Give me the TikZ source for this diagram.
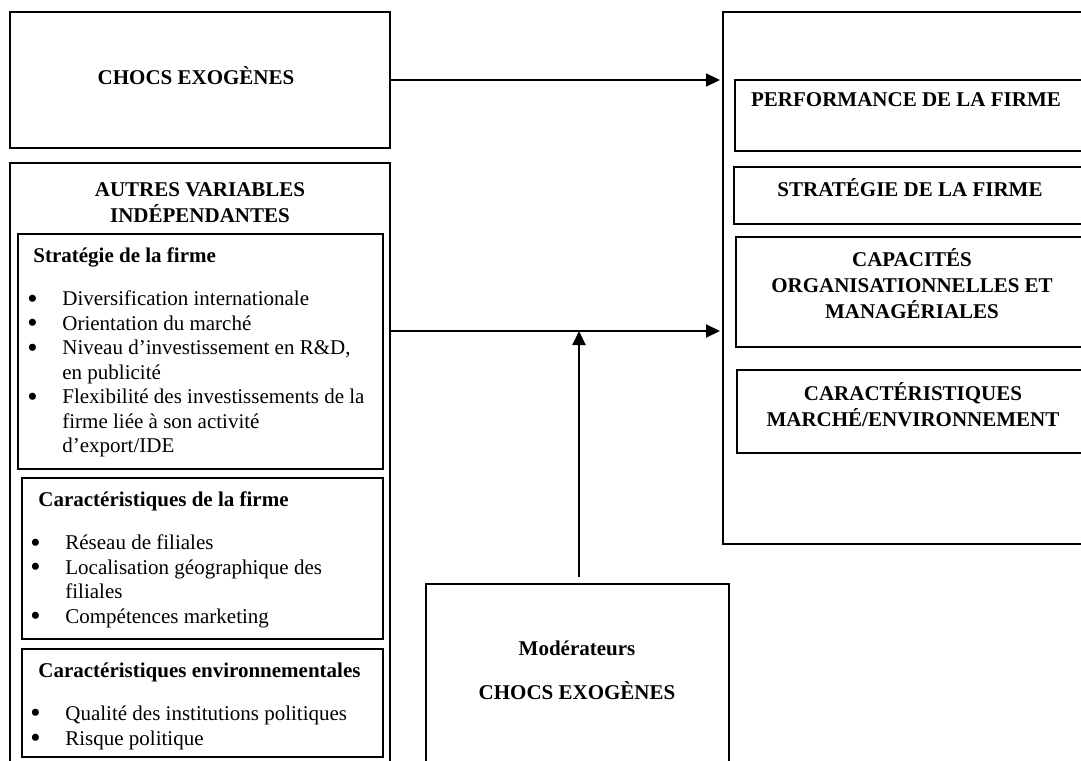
\documentclass[tikz,border=0pt]{standalone}
\usepackage{fontspec}
\setmainfont{Liberation Serif}
\usepackage{tikz}
\usetikzlibrary{arrows.meta,fit}

\newcommand{\puce}{\makebox[17.5pt][l]{\smash{\raisebox{-1.2pt}{\scalebox{1.4}{\textbullet}}}}}
\newcommand{\suite}{\hspace*{17.5pt}}

\begin{document}
\begin{tikzpicture}[x=0.5pt,y=-0.5pt,
  boite/.style={draw,line width=1pt,inner sep=0pt},
  titre/.style={font=\fontsize{10.5}{13}\selectfont\bfseries,align=center,inner sep=0pt},
  liste/.style={font=\fontsize{10.5}{12.25}\selectfont,align=left,anchor=north west,inner sep=0pt},
  fleche/.style={-{Triangle[length=7pt,width=6.5pt]},line width=1pt}]
\useasboundingbox (0,0) rectangle (1081,760);
\clip (0,0) rectangle (1081,760);

% Left column
\node[boite,fit={(10,12) (390,148)}] (chocs) {};
\node[titre] (chocstxt) at (196,76) {CHOCS EXOGÈNES};

\node[boite,fit={(10,163) (390,780)}] (autres) {};
\node[titre] (autrestxt) at (200,203) {AUTRES VARIABLES\\INDÉPENDANTES};

\node[boite,fit={(18,234) (383,469)}] (strat) {};
\node[liste] (strattxt) at (27,247) {\hspace*{3pt}\textbf{Stratégie de la firme}\\[9.5pt]
  \puce Diversification internationale\\
  \puce Orientation du marché\\
  \puce Niveau d’investissement en R\&D,\\
  \suite en publicité\\
  \puce Flexibilité des investissements de la\\
  \suite firme liée à son activité\\
  \suite d’export/IDE};

\node[boite,fit={(22,478) (383,639)}] (carfirme) {};
\node[liste] (carfirmetxt) at (30,491) {\hspace*{4pt}\textbf{Caractéristiques de la firme}\\[9.5pt]
  \puce Réseau de filiales\\
  \puce Localisation géographique des\\
  \suite filiales\\
  \puce Compétences marketing};

\node[boite,fit={(22,649) (383,757)}] (carenv) {};
\node[liste] (carenvtxt) at (30,662) {\hspace*{4pt}\textbf{Caractéristiques environnementales}\\[9.5pt]
  \puce Qualité des institutions politiques\\
  \puce Risque politique};

% Moderators
\node[boite,fit={(426,584) (729,790)}] (mod) {};
\node[titre] (modtxt) at (577,670) {Modérateurs\\[9pt]CHOCS EXOGÈNES};

% Right column
\node[boite,fit={(723,12) (1110,544)}] (droite) {};
\node[boite,fit={(735,80) (1092,151)}] (perf) {};
\node[titre] (perftxt) at (906,100) {PERFORMANCE DE LA FIRME};
\node[boite,fit={(734,167) (1092,224)}] (stratd) {};
\node[titre] (stratdtxt) at (910,188) {STRATÉGIE DE LA FIRME};
\node[boite,fit={(736,237) (1092,347)}] (capa) {};
\node[titre] (capatxt) at (912,284) {CAPACITÉS\\ORGANISATIONNELLES ET\\MANAGÉRIALES};
\node[boite,fit={(737,370) (1092,453)}] (marche) {};
\node[titre] (marchetxt) at (913,405) {CARACTÉRISTIQUES\\MARCHÉ/ENVIRONNEMENT};

% Arrows
\coordinate (jonction) at (579,331);
\draw[fleche,shorten >=1pt] (chocs.east) -- (chocs.east -| droite.west);
\draw[fleche,shorten >=1pt] (autres.east |- jonction) -- (droite.west |- jonction);
\draw[fleche,shorten <=3pt] (mod.north -| jonction) -- (jonction);
\end{tikzpicture}
\end{document}
